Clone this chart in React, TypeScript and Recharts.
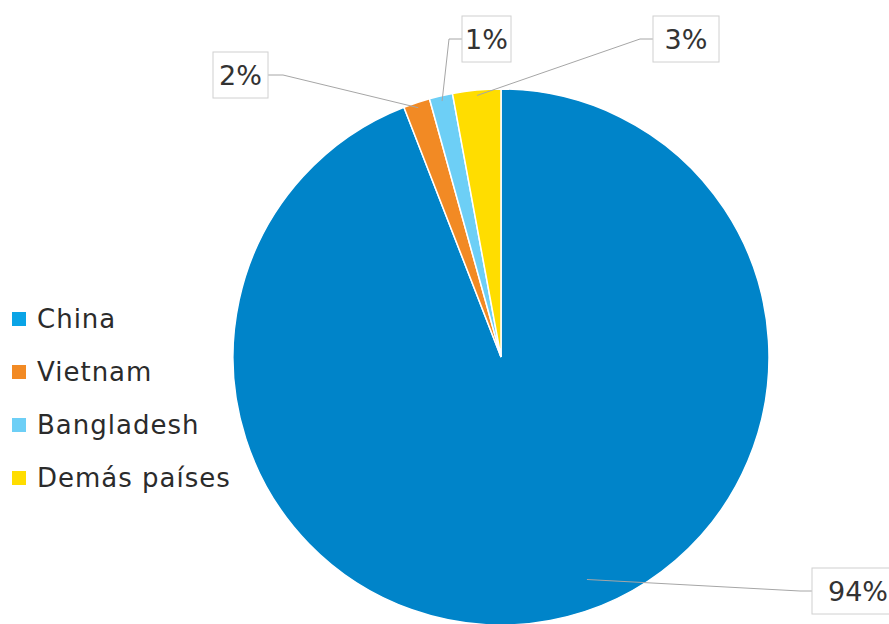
import React from "react";
import { PieChart, Pie, Cell, Legend } from "recharts";

const countries = ["China", "Vietnam", "Bangladesh", "Demás países"];
const shares = [94.1, 1.6, 1.4, 2.9];
const labels = ["94%", "2%", "1%", "3%"];
const sliceColors = ["#0084C9", "#F28A24", "#6DCFF6", "#FFDD00"];
const legendColors = ["#0AA4E6", "#F28A24", "#6DCFF6", "#FFDD00"];

const data = countries.map((name, i) => ({
  name,
  value: shares[i],
  label: labels[i],
}));

const FONT = "'DejaVu Sans', sans-serif";

// the chart runs off the bottom/right edge like the original, so drop the
// body margin and pad the chart instead
if (typeof document !== "undefined") {
  document.body.style.margin = "0";
  document.body.style.overflow = "hidden";
}

// label box placement (chart coords) and leader line anchor tweaks
const labelBoxes = [
  { x: 804, y: 560, w: 92, h: 46, side: "left", elbow: 12, r: 0.89, shift: 10.5 },
  { x: 205, y: 44, w: 55, h: 46, side: "right", elbow: 15, r: 0.98, shift: 0 },
  { x: 454, y: 8, w: 49, h: 46, side: "left", elbow: 13, r: 0.98, shift: 0 },
  { x: 645, y: 8, w: 66, h: 46, side: "left", elbow: 13, r: 0.98, shift: 0 },
];

const RAD = Math.PI / 180;

const BoxLabel = (props: any) => {
  const { cx, cy, midAngle, outerRadius, index, payload } = props;
  const b = labelBoxes[index];
  const ang = (midAngle + b.shift) * RAD;
  const ax = cx + Math.cos(ang) * outerRadius * b.r;
  const ay = cy - Math.sin(ang) * outerRadius * b.r;
  const my = b.y + b.h / 2;
  const ex = b.side === "left" ? b.x : b.x + b.w;
  const kx = b.side === "left" ? ex - b.elbow : ex + b.elbow;
  return (
    <g>
      <polyline
        points={`${ax},${ay} ${kx},${my} ${ex},${my}`}
        fill="none"
        stroke="#A6A6A6"
        strokeWidth={1}
      />
      <rect x={b.x} y={b.y} width={b.w} height={b.h} fill="#fff" stroke="#D0D0D0" strokeWidth={1} />
      <text
        x={b.x + b.w / 2}
        y={my}
        textAnchor="middle"
        dominantBaseline="central"
        fontSize={27}
        fill="#333"
        fontFamily={FONT}
      >
        {payload.label}
      </text>
    </g>
  );
};

const CustomLegend = () => (
  <div style={{ fontFamily: FONT }}>
    {countries.map((name, i) => (
      <div
        key={name}
        style={{ display: "flex", alignItems: "center", height: 53 }}
      >
        <div
          style={{
            width: 14,
            height: 14,
            backgroundColor: legendColors[i],
            marginRight: 11,
          }}
        />
        <span style={{ fontSize: 26, letterSpacing: 1, color: "#2b2b2b" }}>{name}</span>
      </div>
    ))}
  </div>
);

export default function App() {
  return (
    <div style={{ width: 881, height: 616, padding: "8px 0 0 8px", overflow: "hidden" }}>
      <PieChart width={881} height={616} margin={{ top: 0, right: 0, bottom: 0, left: 0 }}>
        <Pie
          data={data}
          dataKey="value"
          nameKey="name"
          cx={493}
          cy={349}
          outerRadius={268}
          startAngle={90}
          endAngle={-270}
          stroke="#fff"
          strokeWidth={1.5}
          label={BoxLabel}
          labelLine={false}
          isAnimationActive={false}
        >
          {data.map((entry, i) => (
            <Cell key={entry.name} fill={sliceColors[i]} />
          ))}
        </Pie>
        <Legend
          content={<CustomLegend />}
          wrapperStyle={{ left: 4, top: 284, width: 260 }}
        />
      </PieChart>
    </div>
  );
}
